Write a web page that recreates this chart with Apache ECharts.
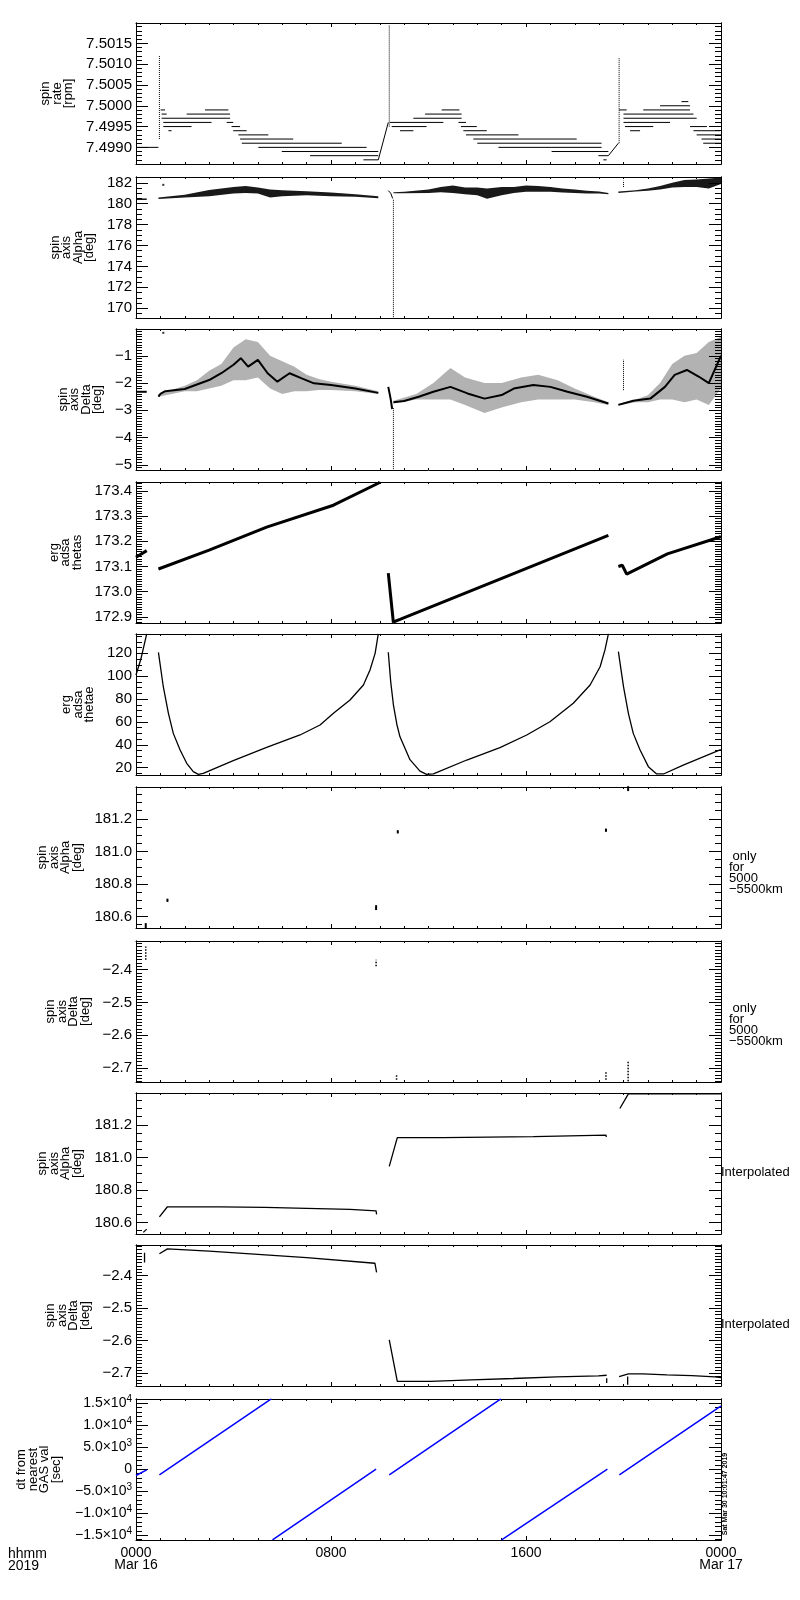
<!DOCTYPE html>
<html>
<head>
<meta charset="utf-8">
<script src="https://cdn.jsdelivr.net/npm/echarts@6/dist/echarts.min.js"></script>
<style>
html, body { margin: 0; background: #fff; }
#chart { width: 800px; height: 1600px; }
</style>
</head>
<body>
<div id="chart"></div>
<script>
// ---- x axis (hours of 2019-03-16) ----
var xTickHours = [0, 8, 16, 24];
var xTickLabels = ['0000\nMar 16', '0800', '1600', '0000\nMar 17'];

// ---- panel 1: spin rate [rpm]  (levels: [from h, to h, value]) ----
var rateTicks = [7.4990, 7.4995, 7.5000, 7.5005, 7.5010, 7.5015];
var rateLevels = [
  [0.00, 0.92, 7.4990], [1.01, 1.19, 7.4999], [1.05, 1.26, 7.4998], [1.05, 3.86, 7.4997],
  [1.12, 3.10, 7.4996], [1.12, 2.28, 7.4995], [1.33, 1.46, 7.4994], [2.08, 3.86, 7.4998],
  [2.83, 3.79, 7.4999], [3.72, 3.99, 7.4996], [3.92, 4.27, 7.4995], [3.99, 4.54, 7.4994],
  [4.20, 5.43, 7.4993], [4.27, 6.45, 7.4992], [4.34, 8.44, 7.4991], [5.02, 9.46, 7.4990],
  [5.98, 9.94, 7.4989], [7.14, 9.94, 7.4988], [9.33, 9.94, 7.4987],
  [10.42, 12.61, 7.4996], [10.49, 11.92, 7.4995], [10.83, 11.38, 7.4994], [11.38, 13.36, 7.4997],
  [11.86, 13.36, 7.4998], [12.54, 13.27, 7.4999], [13.23, 13.54, 7.4996], [13.33, 13.98, 7.4995],
  [13.43, 14.39, 7.4994], [13.54, 15.69, 7.4993], [13.84, 18.08, 7.4992], [14.00, 19.10, 7.4991],
  [14.87, 19.10, 7.4990], [17.05, 19.38, 7.4989], [18.97, 19.38, 7.4988], [19.17, 19.31, 7.4987],
  [19.82, 20.13, 7.4999], [20.81, 22.73, 7.4999], [21.50, 22.73, 7.5000], [22.38, 22.66, 7.5001],
  [20.00, 22.87, 7.4998], [20.00, 23.00, 7.4997], [20.00, 21.91, 7.4996], [20.06, 21.22, 7.4995],
  [22.73, 23.42, 7.4995], [20.27, 20.68, 7.4994], [22.87, 23.96, 7.4994], [23.00, 24.00, 7.4993],
  [23.20, 24.00, 7.4992], [23.27, 24.00, 7.4991]
];
var rateSpikes = [[0.96, 7.4992, 7.5012], [10.39, 7.4995, 7.50195], [19.82, 7.4991, 7.50114]];
var rateRamps = [
  [[9.94, 7.4987], [10.35, 7.4996]],
  [[19.38, 7.4988], [19.79, 7.4991]]
];

// ---- panel 2: spin axis Alpha [deg]  (bands: [h, low, high]) ----
var alphaTicks = [170, 172, 174, 176, 178, 180, 182];
var alphaBands = [
  [[0, 180.35, 180.5], [0.44, 180.35, 180.5]],
  [[0.92, 180.45, 180.6], [2.0, 180.6, 180.85], [3.0, 180.7, 181.3], [4.0, 180.97, 181.6],
   [4.5, 181.03, 181.68], [5.0, 180.97, 181.55], [5.5, 180.58, 181.35], [6.0, 180.71, 181.29],
   [7.0, 180.81, 181.19], [8.0, 180.71, 181.06], [9.0, 180.65, 180.9], [9.94, 180.52, 180.71]],
  [[10.56, 181.0, 181.1], [11.0, 181.0, 181.15], [12.0, 181.03, 181.35], [12.5, 181.1, 181.6],
   [13.0, 181.03, 181.74], [13.5, 180.9, 181.55], [14.0, 180.8, 181.55], [14.4, 180.48, 181.45],
   [15.0, 180.8, 181.6], [15.5, 181.03, 181.6], [16.0, 181.13, 181.74], [16.5, 181.13, 181.68],
   [17.0, 181.13, 181.6], [17.5, 181.06, 181.45], [18.0, 181.03, 181.35], [18.5, 180.97, 181.23],
   [19.0, 180.97, 181.16], [19.38, 180.9, 181.03]],
  [[19.79, 181.03, 181.16], [20.5, 181.16, 181.29], [21.0, 181.23, 181.45], [21.5, 181.35, 181.68],
   [22.0, 181.55, 182.0], [22.5, 181.6, 182.26], [23.0, 181.6, 182.3], [23.5, 181.45, 182.4],
   [24.0, 181.87, 182.5]]
];
var alphaDrop = [[10.35, 181.25], [10.45, 181.0], [10.53, 180.5]];
var alphaVerticals = [[10.56, 168.0, 180.45], [20.0, 181.6, 182.2]];
var alphaDots = [[1.12, 181.8]];

// ---- panel 3: spin axis Delta [deg] ----
var deltaTicks = [-5, -4, -3, -2, -1];
var deltaCore = [
  [[0, -2.32], [0.44, -2.32]],
  [[0.92, -2.5], [1.0, -2.4], [1.2, -2.3], [2.0, -2.22], [3.0, -1.89], [3.5, -1.64], [4.0, -1.33],
   [4.3, -1.09], [4.6, -1.4], [5.0, -1.15], [5.4, -1.64], [5.8, -1.95], [6.3, -1.64], [6.8, -1.83],
   [7.3, -2.01], [8.0, -2.07], [9.0, -2.2], [9.94, -2.36]],
  [[10.35, -2.14], [10.45, -2.6], [10.51, -2.95]],
  [[10.56, -2.7], [11.0, -2.66], [11.6, -2.5], [12.2, -2.32], [12.9, -2.14], [13.6, -2.38],
   [14.3, -2.57], [15.0, -2.44], [15.5, -2.2], [16.3, -2.07], [17.0, -2.14], [17.7, -2.32],
   [18.5, -2.5], [19.38, -2.75]],
  [[19.79, -2.8], [20.4, -2.65], [21.1, -2.57], [21.7, -2.14], [22.1, -1.7], [22.6, -1.52],
   [23.1, -1.77], [23.5, -2.0], [24.0, -1.0]]
];
var deltaSpread = [
  [[0.92, -2.5, -2.4], [2.0, -2.3, -2.1], [2.5, -2.3, -1.9], [3.0, -2.2, -1.55], [3.5, -2.1, -1.3],
   [4.0, -1.9, -0.7], [4.5, -1.9, -0.4], [5.0, -1.8, -0.5], [5.5, -2.2, -1.0], [6.0, -2.4, -1.2],
   [6.5, -2.3, -1.4], [7.0, -2.3, -1.7], [7.5, -2.25, -1.85], [8.0, -2.25, -1.95], [9.0, -2.3, -2.1],
   [9.94, -2.4, -2.3]],
  [[10.56, -2.75, -2.65], [11.5, -2.6, -2.4], [12.2, -2.6, -2.0], [12.9, -2.6, -1.45], [13.5, -2.8, -1.8],
   [14.3, -3.1, -2.0], [15.0, -2.9, -2.0], [15.8, -2.7, -1.8], [16.5, -2.6, -1.7], [17.3, -2.6, -1.9],
   [18.0, -2.6, -2.2], [18.8, -2.7, -2.5], [19.38, -2.8, -2.7]],
  [[19.79, -2.82, -2.76], [20.5, -2.7, -2.6], [21.0, -2.7, -2.45], [21.5, -2.6, -2.0], [22.0, -2.6, -1.3],
   [22.5, -2.7, -1.0], [23.0, -2.6, -0.9], [23.5, -2.8, -0.5], [24.0, -2.2, -0.3]]
];
var deltaVerticals = [[10.56, -5.3, -2.9], [20.0, -2.26, -1.15]];
var deltaDots = [[1.12, -0.16]];

// ---- panel 4: erg adsa thetas ----
var thetasTicks = [172.9, 173.0, 173.1, 173.2, 173.3, 173.4];
var thetasLines = [
  [[0, 173.137], [0.44, 173.163]],
  [[0.92, 173.09], [3.0, 173.165], [5.36, 173.256], [8.1, 173.343], [9.98, 173.432], [10.0, 173.436]],
  [[10.35, 173.074], [10.56, 172.877]],
  [[10.56, 172.88], [10.83, 172.89], [14.93, 173.05], [19.38, 173.223]],
  [[19.79, 173.1], [19.95, 173.105], [20.13, 173.07], [21.8, 173.15], [23.96, 173.217], [24.0, 173.22]]
];

// ---- panel 5: erg adsa thetae ----
var thetaeTicks = [20, 40, 60, 80, 100, 120];
var thetaeLines = [
  [[0, 101], [0.2, 115], [0.44, 137]],
  [[0.92, 120.9], [1.12, 90.8], [1.33, 67.5], [1.53, 50], [1.81, 35.5], [2.08, 23.8], [2.35, 16.5],
   [2.56, 14.2], [2.76, 15], [3.99, 26.1], [5.36, 37.8], [6.73, 48.6], [7.55, 57.3], [8.1, 67.5],
   [8.78, 79.2], [9.33, 92.3], [9.6, 105.4], [9.81, 120], [9.94, 137]],
  [[10.35, 120.9], [10.45, 95], [10.56, 75], [10.7, 58], [10.83, 47], [11.24, 27], [11.65, 17],
   [11.92, 14.2], [12.2, 14.5], [13.57, 26.7], [14.93, 37.5], [16.03, 48.6], [16.98, 60.2],
   [17.94, 76.3], [18.63, 92.3], [19.04, 108.3], [19.24, 123], [19.38, 137]],
  [[19.79, 121.5], [20.0, 90.8], [20.2, 67.5], [20.4, 50], [20.68, 35.5], [21.02, 20.9],
   [21.36, 14.5], [21.64, 14.5], [22.45, 22.3], [23.96, 35.5], [24.0, 35.6]]
];

// ---- panel 6: spin axis Alpha, only for 5000-5500km  (marks: [h, v1, v2]) ----
var alphaOnlyTicks = [180.6, 180.8, 181.0, 181.2];
var alphaOnlyMarks = [[0.4, 180.53, 180.56], [1.29, 180.69, 180.71], [9.85, 180.64, 180.67],
  [10.74, 181.11, 181.13], [19.28, 181.12, 181.14], [20.19, 181.37, 181.40]];

// ---- panel 7: spin axis Delta, only for 5000-5500km ----
var deltaOnlyTicks = [-2.7, -2.6, -2.5, -2.4];
var deltaOnlyMarks = [[0.4, -2.37, -2.33], [9.85, -2.39, -2.37], [10.69, -2.735, -2.72],
  [19.28, -2.735, -2.71], [20.19, -2.74, -2.68]];

// ---- panel 8: spin axis Alpha, interpolated ----
var alphaInterpTicks = [180.6, 180.8, 181.0, 181.2];
var alphaInterpLines = [
  [[0.3, 180.54], [0.44, 180.56]],
  [[0.96, 180.635], [1.29, 180.697], [3.45, 180.697], [3.45, 180.693], [5.29, 180.693], [5.29, 180.687],
   [7.0, 180.687], [7.0, 180.681], [8.78, 180.681], [8.78, 180.672], [9.85, 180.672], [9.87, 180.65]],
  [[10.39, 180.945], [10.72, 181.121], [12.6, 181.121], [12.6, 181.127], [16.3, 181.127],
   [16.3, 181.135], [19.28, 181.137], [19.3, 181.125]],
  [[19.85, 181.3], [20.2, 181.39], [24.0, 181.39]]
];

// ---- panel 9: spin axis Delta, interpolated ----
var deltaInterpTicks = [-2.7, -2.6, -2.5, -2.4];
var deltaInterpLines = [
  [[0.35, -2.33], [0.35, -2.36]],
  [[0.96, -2.333], [1.29, -2.318], [3.0, -2.325], [5.0, -2.335], [7.0, -2.345], [9.8, -2.362],
   [9.85, -2.365], [9.87, -2.39]],
  [[10.39, -2.597], [10.72, -2.725], [12.06, -2.725], [12.06, -2.72], [13.77, -2.72], [13.77, -2.716],
   [15.48, -2.716], [15.48, -2.711], [17.26, -2.711], [17.26, -2.708], [18.97, -2.708],
   [18.97, -2.706], [19.31, -2.706]],
  [[19.31, -2.715], [19.31, -2.73]],
  [[19.82, -2.71], [20.2, -2.702], [20.8, -2.702], [20.8, -2.705], [21.78, -2.705], [21.78, -2.707],
   [22.8, -2.707], [22.8, -2.711], [23.76, -2.711], [23.76, -2.713], [24.0, -2.713]],
  [[20.17, -2.71], [20.17, -2.735]]
];

// ---- panel 10: dt from nearest GAS val [sec] ----
var dtTicks = [-15000, -10000, -5000, 0, 5000, 10000, 15000];
var dtTickLabels = ['\u22121.5\u00d710|4', '\u22121.0\u00d710|4', '\u22125.0\u00d710|3', '0',
  '5.0\u00d710|3', '1.0\u00d710|4', '1.5\u00d710|4'];
var dtLines = [
  [[0, -1413], [0.44, -115]],
  [[0.96, -1260], [5.55, 16000]],
  [[5.6, -16070], [9.85, 40]],
  [[10.39, -1260], [14.97, 16000]],
  [[15.0, -16070], [19.34, 40]],
  [[19.83, -1260], [23.96, 14240], [24.0, 14390]]
];

var FONT = 'Liberation Sans';
var BLACK = '#000';
var BLUE = '#0000ff';
var MINUS = '\u2212';

function minusFmt(dec) {
  return function (v) { return v.toFixed(dec).replace('-', MINUS); };
}

var panels = [
  { name: 'spin\nrate\n[rpm]', min: 7.49860, max: 7.50199, ticks: rateTicks, minor: 0.0001, fmt: minusFmt(4), gap: 58 },
  { name: 'spin\naxis\nAlpha\n[deg]', min: 169.07, max: 182.55, ticks: alphaTicks, minor: 0.5, fmt: minusFmt(0), gap: 39 },
  { name: 'spin\naxis\nDelta\n[deg]', min: -5.185, max: -0.02, ticks: deltaTicks, minor: 0.1, fmt: minusFmt(0), gap: 31 },
  { name: 'erg\nadsa\nthetas', min: 172.876, max: 173.435, ticks: thetasTicks, minor: 0.01, fmt: minusFmt(1), gap: 53 },
  { name: 'erg\nadsa\nthetae', min: 13.6, max: 136.9, ticks: thetaeTicks, minor: 5, fmt: minusFmt(0), gap: 39 },
  { name: 'spin\naxis\nAlpha\n[deg]', min: 180.53, max: 181.395, ticks: alphaOnlyTicks, minor: 0.05, fmt: minusFmt(1), gap: 50 },
  { name: 'spin\naxis\nDelta\n[deg]', min: -2.742, max: -2.313, ticks: deltaOnlyTicks, minor: 0.01, fmt: minusFmt(1), gap: 44 },
  { name: 'spin\naxis\nAlpha\n[deg]', min: 180.53, max: 181.395, ticks: alphaInterpTicks, minor: 0.05, fmt: minusFmt(1), gap: 50 },
  { name: 'spin\naxis\nDelta\n[deg]', min: -2.739, max: -2.306, ticks: deltaInterpTicks, minor: 0.01, fmt: minusFmt(1), gap: 44 },
  { name: 'dt from\nnearest\nGAS val\n[sec]', min: -16076, max: 15985, ticks: dtTicks, minor: 1000, fmt: null, gap: 74 }
];

var PANEL_TOPS = [23, 177, 329, 482, 634, 787, 941, 1093, 1245, 1399];
var PANEL_H = 141;
var LEFT = 136;
var WIDTH = 585;

function stepValues(min, max, step) {
  var out = [];
  for (var k = Math.ceil(min / step - 1e-7); k * step <= max + 1e-9; k++) {
    out.push(+(k * step).toFixed(8));
  }
  return out;
}

var grids = [], xAxes = [], yAxes = [], series = [];

panels.forEach(function (p, i) {
  var last = i === panels.length - 1;
  grids.push({ left: LEFT, top: PANEL_TOPS[i], width: WIDTH, height: PANEL_H });

  var xBase = {
    type: 'value', gridIndex: i, min: 0, max: 24, interval: 8,
    axisLine: { onZero: false, lineStyle: { color: BLACK, width: 1 } },
    splitLine: { show: false },
    axisTick: { inside: true, length: 4, lineStyle: { color: BLACK } },
    minorTick: { show: true, splitNumber: 8, length: 2, lineStyle: { color: BLACK } }
  };
  xAxes.push(Object.assign({}, xBase, {
    position: 'bottom',
    axisLabel: last ? {
      show: true, margin: 7, color: BLACK, fontFamily: FONT, fontSize: 14, lineHeight: 12,
      showMinLabel: true, showMaxLabel: true,
      formatter: function (v) { return xTickLabels[xTickHours.indexOf(Math.round(v))] || ''; }
    } : { show: false }
  }));
  xAxes.push(Object.assign({}, xBase, { position: 'top', axisLabel: { show: false } }));

  var minors = stepValues(p.min, p.max, p.minor);
  var yBase = {
    type: 'value', gridIndex: i, min: p.min, max: p.max,
    splitLine: { show: false },
    axisLine: { show: true, onZero: false, lineStyle: { color: BLACK, width: 1 } }
  };
  var labelFmt = p.fmt || function (v) {
    var idx = dtTicks.indexOf(Math.round(v));
    var s = dtTickLabels[idx];
    if (s === undefined) return '';
    var parts = s.split('|');
    return parts.length > 1 ? '{m|' + parts[0] + '}{s|' + parts[1] + '}' : '{m|' + s + '}';
  };
  yAxes.push(Object.assign({}, yBase, {
    position: 'left',
    name: p.name, nameLocation: 'middle', nameRotate: 90, nameGap: p.gap,
    nameTextStyle: { color: BLACK, fontFamily: FONT, fontSize: 13, lineHeight: 11.5 },
    axisTick: { inside: true, length: 12, customValues: p.ticks, lineStyle: { color: BLACK } },
    axisLabel: {
      show: true, margin: 4, color: BLACK, fontFamily: FONT, fontSize: last ? 14 : 15,
      customValues: p.ticks, formatter: labelFmt,
      rich: {
        m: { fontFamily: FONT, fontSize: 14, color: BLACK, lineHeight: 18 },
        s: { fontFamily: FONT, fontSize: 10, color: BLACK, verticalAlign: 'top', lineHeight: 10 }
      }
    }
  }));
  yAxes.push(Object.assign({}, yBase, {
    position: 'left', axisLabel: { show: false },
    axisTick: { inside: true, length: 6, customValues: minors, lineStyle: { color: BLACK } }
  }));
  yAxes.push(Object.assign({}, yBase, {
    position: 'right', axisLabel: { show: false },
    axisTick: { inside: true, length: 12, customValues: p.ticks, lineStyle: { color: BLACK } }
  }));
  yAxes.push(Object.assign({}, yBase, {
    position: 'right', axisLabel: { show: false },
    axisTick: { inside: true, length: 6, customValues: minors, lineStyle: { color: BLACK } }
  }));
});

function addLine(panel, pts, color, width, type) {
  series.push({
    type: 'line', xAxisIndex: 2 * panel, yAxisIndex: 4 * panel, data: pts,
    symbol: 'none', silent: true, clip: true,
    lineStyle: { color: color, width: width, type: type || 'solid' }
  });
}
function addDots(panel, pts, size) {
  series.push({
    type: 'scatter', xAxisIndex: 2 * panel, yAxisIndex: 4 * panel, data: pts,
    symbol: 'rect', symbolSize: size, silent: true, itemStyle: { color: BLACK }
  });
}
function addBand(panel, band, fill) {
  series.push({
    type: 'custom', xAxisIndex: 2 * panel, yAxisIndex: 4 * panel, silent: true, clip: true,
    data: [[band[0][0], band[0][1]]],
    renderItem: function (params, api) {
      var upper = band.map(function (p) { return api.coord([p[0], p[2]]); });
      var lower = band.slice().reverse().map(function (p) { return api.coord([p[0], p[1]]); });
      return { type: 'polygon', shape: { points: upper.concat(lower) }, style: { fill: fill } };
    }
  });
}
function addVerticals(panel, marks, width, type) {
  marks.forEach(function (m) { addLine(panel, [[m[0], m[1]], [m[0], m[2]]], BLACK, width, type); });
}

// panel 1
rateLevels.forEach(function (s) { addLine(0, [[s[0], s[2]], [s[1], s[2]]], BLACK, 1); });
addVerticals(0, rateSpikes, 1, 'dotted');
rateRamps.forEach(function (r) { addLine(0, r, BLACK, 1); });

// panel 2
alphaBands.forEach(function (b) { addBand(1, b, 'rgba(0,0,0,0.9)'); });
addLine(1, alphaDrop, BLACK, 1);
addVerticals(1, alphaVerticals, 1, 'dotted');
addDots(1, alphaDots, 2);

// panel 3
deltaSpread.forEach(function (b) { addBand(2, b, 'rgba(0,0,0,0.3)'); });
deltaCore.forEach(function (c) { addLine(2, c, BLACK, 2); });
addVerticals(2, deltaVerticals, 1, 'dotted');
addDots(2, deltaDots, 2);

// panel 4, 5
thetasLines.forEach(function (l) { addLine(3, l, BLACK, 3); });
thetaeLines.forEach(function (l) { addLine(4, l, BLACK, 1.3); });

// panel 6, 7
addVerticals(5, alphaOnlyMarks, 2);
addVerticals(6, deltaOnlyMarks, 1.5, 'dotted');

// panel 8, 9
alphaInterpLines.forEach(function (l) { addLine(7, l, BLACK, 1.3); });
deltaInterpLines.forEach(function (l) { addLine(8, l, BLACK, 1.3); });

// panel 10
dtLines.forEach(function (l) { addLine(9, l, BLUE, 1.5); });

var sideText = function (txt, left, top) {
  return { type: 'text', left: left, top: top, silent: true,
    style: { text: txt, fill: BLACK, font: '13px "' + FONT + '"', lineHeight: 11 } };
};

var option = {
  backgroundColor: '#fff',
  animation: false,
  grid: grids,
  xAxis: xAxes,
  yAxis: yAxes,
  series: series,
  graphic: [
    sideText(' only\nfor\n5000\n\u22125500km', 729, 850),
    sideText(' only\nfor\n5000\n\u22125500km', 729, 1002),
    sideText('Interpolated', 721, 1166),
    sideText('Interpolated', 721, 1318),
    { type: 'text', left: 8, top: 1547, silent: true,
      style: { text: 'hhmm\n2019', fill: BLACK, font: '14px "' + FONT + '"', lineHeight: 12 } },
    { type: 'text', x: 725, y: 1494, rotation: Math.PI / 2, silent: true,
      style: { text: 'Sat Mar 30 10:01:47 2019', fill: BLACK, font: 'bold 7px "' + FONT + '"',
        align: 'center', verticalAlign: 'middle' } }
  ]
};

var chart = echarts.init(document.getElementById('chart'));
chart.setOption(option);
</script>
</body>
</html>
